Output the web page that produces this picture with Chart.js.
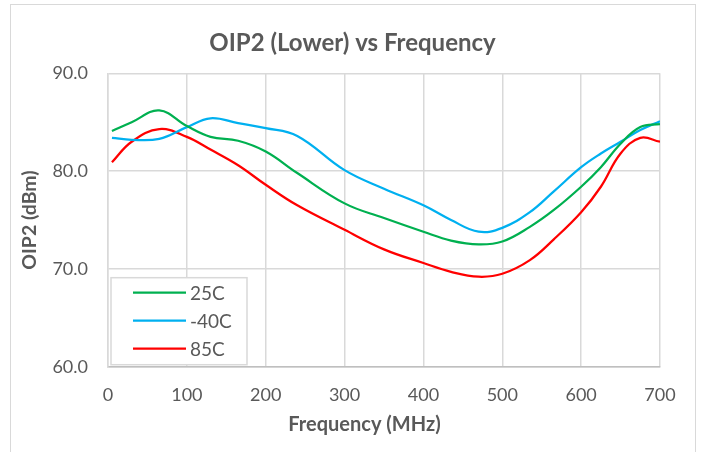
<!DOCTYPE html>
<html>
<head>
<meta charset="utf-8">
<title>OIP2 (Lower) vs Frequency</title>
<script src="https://cdn.jsdelivr.net/npm/chart.js@4"></script>
<style>
    html, body { margin: 0; padding: 0; background: #fff; }
    .chart-wrap { position: relative; width: 705px; height: 452px; overflow: hidden; }
    .chart-frame {
        position: absolute; left: 10px; top: 4px; width: 686px; height: 460px;
        border: 1.5px solid #d9d9d9; box-sizing: border-box; pointer-events: none;
    }
    canvas { position: absolute; left: 0; top: 0; }
</style>
</head>
<body>
<div class="chart-wrap">
    <canvas id="oip2Chart" width="705" height="452"></canvas>
    <div class="chart-frame"></div>
</div>
<script>
// Frequency sample points (MHz)
const frequencies = [5, 30, 65, 100, 130, 165, 200, 240, 300, 350, 400, 435, 470, 500, 535, 565, 600, 625, 650, 675, 700];

// OIP2 lower readings (dBm) per temperature
const oip2_25C  = [84.1, 85.0, 86.2, 84.6, 83.5, 83.1, 82.0, 79.8, 76.7, 75.2, 73.8, 72.9, 72.5, 72.8, 74.3, 76.0, 78.4, 80.4, 82.8, 84.5, 84.8];
const oip2_m40C = [83.4, 83.2, 83.3, 84.5, 85.4, 84.9, 84.4, 83.6, 80.1, 78.2, 76.5, 75.0, 73.8, 74.2, 75.8, 77.9, 80.4, 81.8, 83.0, 84.2, 85.1];
const oip2_85C  = [80.9, 83.0, 84.3, 83.5, 82.2, 80.6, 78.6, 76.5, 74.0, 72.0, 70.6, 69.7, 69.2, 69.5, 70.9, 73.0, 75.8, 78.4, 81.8, 83.4, 83.0];

const seriesLabels = ['25C', '-40C', '85C'];
const seriesColors = ['#00b050', '#00b0f0', '#ff0000'];

const xTicks = [0, 100, 200, 300, 400, 500, 600, 700];
const yTicks = [60, 70, 80, 90];

const chartTitle = 'OIP2 (Lower) vs Frequency';
const xAxisTitle = 'Frequency (MHz)';
const yAxisTitle = 'OIP2 (dBm)';

const FONT = 'Lato, "Open Sans", sans-serif';
const TEXT_COLOR = '#595959';
const GRID_COLOR = '#d9d9d9';

document.addEventListener('DOMContentLoaded', function() {
    initOip2Chart();
});

function toPoints(values) {
    return values.map((v, i) => ({ x: frequencies[i], y: v }));
}

// Chart title and x-axis title, placed like Excel does (centred on the frame, not the plot)
const excelTitles = {
    id: 'excelTitles',
    afterDraw(chart) {
        const ctx = chart.ctx;
        const mid = chart.width / 2;
        ctx.save();
        ctx.fillStyle = TEXT_COLOR;
        ctx.textAlign = 'center';
        ctx.textBaseline = 'middle';
        ctx.font = 'bold 24px ' + FONT;
        ctx.fillText(chartTitle, mid, 43);
        ctx.font = 'bold 20px ' + FONT;
        ctx.fillText(xAxisTitle, mid + 12, chart.chartArea.bottom + 58);
        ctx.restore();
    }
};

// Legend box drawn inside the plot area, bottom-left
const insideLegend = {
    id: 'insideLegend',
    afterDatasetsDraw(chart) {
        const ctx = chart.ctx;
        const area = chart.chartArea;
        const boxX = area.left + 3;
        const boxW = 136;
        const boxH = 87;
        const boxY = area.bottom - 2 - boxH;

        ctx.save();
        ctx.fillStyle = '#ffffff';
        ctx.fillRect(boxX, boxY, boxW, boxH);
        ctx.strokeStyle = GRID_COLOR;
        ctx.lineWidth = 1.5;
        ctx.strokeRect(boxX, boxY, boxW, boxH);

        ctx.font = '19px ' + FONT;
        ctx.textBaseline = 'middle';
        ctx.fillStyle = TEXT_COLOR;
        chart.data.datasets.forEach((ds, i) => {
            const y = boxY + 15 + i * 28;
            ctx.strokeStyle = ds.borderColor;
            ctx.lineWidth = 2.25;
            ctx.beginPath();
            ctx.moveTo(boxX + 22, y);
            ctx.lineTo(boxX + 75, y);
            ctx.stroke();
            ctx.fillText(ds.label, boxX + 79, y + 1);
        });
        ctx.restore();
    }
};

function initOip2Chart() {
    const ctx = document.getElementById('oip2Chart');
    if (!ctx) return;

    const allSeries = [oip2_25C, oip2_m40C, oip2_85C];

    new Chart(ctx, {
        type: 'line',
        data: {
            datasets: allSeries.map((values, i) => ({
                label: seriesLabels[i],
                data: toPoints(values),
                borderColor: seriesColors[i],
                backgroundColor: seriesColors[i],
                borderWidth: 2.25,
                pointRadius: 0,
                fill: false,
                tension: 0.4
            }))
        },
        options: {
            responsive: false,
            animation: false,
            devicePixelRatio: 1,
            layout: {
                padding: { left: 14, right: 45, top: 73.3, bottom: 0 }
            },
            plugins: {
                legend: { display: false },
                tooltip: { enabled: false },
                title: { display: false }
            },
            scales: {
                x: {
                    type: 'linear',
                    min: 0,
                    max: 700,
                    afterBuildTicks: axis => { axis.ticks = xTicks.map(v => ({ value: v })); },
                    afterFit: axis => { axis.height = 85.3; },
                    grid: { color: GRID_COLOR, lineWidth: 1.5, drawTicks: false },
                    border: { color: '#bfbfbf', width: 1.5 },
                    ticks: {
                        color: TEXT_COLOR,
                        padding: 18,
                        font: { family: FONT, size: 18 }
                    }
                },
                y: {
                    min: 60,
                    max: 90,
                    afterBuildTicks: axis => { axis.ticks = yTicks.map(v => ({ value: v })); },
                    afterFit: axis => { axis.width = 94; },
                    grid: { color: GRID_COLOR, lineWidth: 1.5, drawTicks: false },
                    border: { color: GRID_COLOR, width: 1.5 },
                    ticks: {
                        color: TEXT_COLOR,
                        padding: 20,
                        font: { family: FONT, size: 18 },
                        callback: value => value.toFixed(1)
                    },
                    title: {
                        display: true,
                        text: yAxisTitle,
                        color: TEXT_COLOR,
                        font: { family: FONT, size: 19.5, weight: 'bold' },
                        padding: { top: 4.3, bottom: 0 }
                    }
                }
            }
        },
        plugins: [insideLegend, excelTitles]
    });
}
</script>
</body>
</html>
